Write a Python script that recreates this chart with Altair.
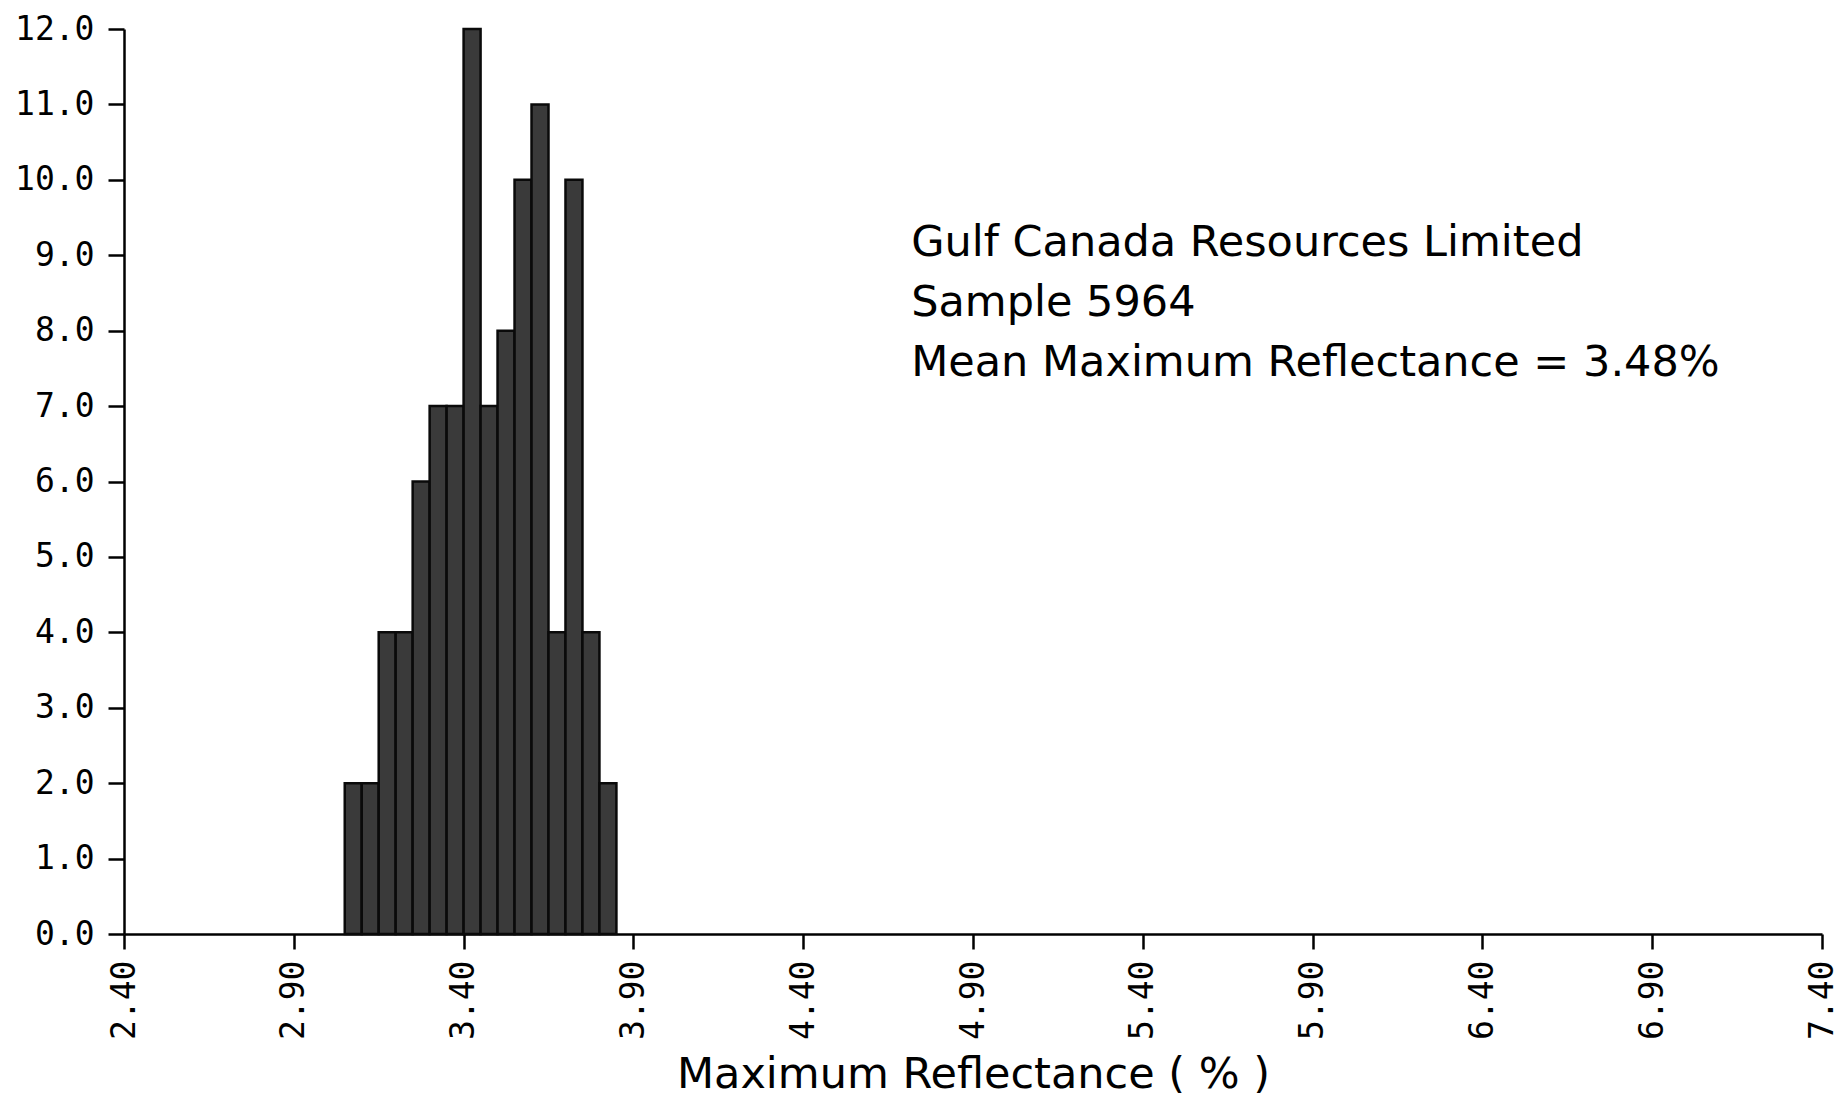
import altair as alt
import pandas as pd

# Histogram bins (lower edges, %) and their percentages
bin_start = [3.05, 3.10, 3.15, 3.20, 3.25, 3.30, 3.35, 3.40,
             3.45, 3.50, 3.55, 3.60, 3.65, 3.70, 3.75, 3.80]
percent = [2, 2, 4, 4, 6, 7, 7, 12, 7, 8, 10, 11, 4, 10, 4, 2]
bin_width = 0.05

x_ticks = [2.40, 2.90, 3.40, 3.90, 4.40, 4.90, 5.40, 5.90, 6.40, 6.90, 7.40]
y_ticks = [0, 1, 2, 3, 4, 5, 6, 7, 8, 9, 10, 11, 12]

notes = ["Gulf Canada Resources Limited",
         "Sample 5964",
         "Mean Maximum Reflectance = 3.48%"]
x_title = "Maximum Reflectance ( % )"

df = pd.DataFrame({
    "start": bin_start,
    "end": [s + bin_width for s in bin_start],
    "pct": percent,
})

SANS = "DejaVu Sans"
MONO = "DejaVu Sans Mono"

x_scale = alt.Scale(domain=[2.40, 7.40], nice=False, zero=False)
y_scale = alt.Scale(domain=[0, 12], nice=False)

x_axis = alt.Axis(
    values=x_ticks, format=".2f", labelAngle=-90, tickSize=15, labelPadding=11,
    title=x_title, titleFont=SANS, titleFontSize=43, titleFontWeight="normal",
    titleColor="black", titleY=153, titleBaseline="alphabetic",
)
y_axis = alt.Axis(values=y_ticks, format=".1f", tickSize=16, labelPadding=14, title=None)

bars = alt.Chart(df).mark_bar(
    fill="#3a3a3a", stroke="#0a0a0a", strokeWidth=2.5
).encode(
    x=alt.X("start:Q", scale=x_scale, axis=x_axis),
    x2="end:Q",
    y=alt.Y("pct:Q", scale=y_scale, axis=y_axis),
    y2=alt.datum(0),
)

note = alt.Chart(pd.DataFrame({"a": [0]})).mark_text(
    text=notes, lineHeight=60, align="left", baseline="alphabetic",
    font=SANS, fontSize=43, color="black",
).encode(
    x=alt.datum(4.718),
    y=alt.datum(8.99),
)

chart = alt.layer(bars, note).properties(
    width=1698, height=905,
    autosize=alt.AutoSizeParams(type="none"),
    padding={"left": 116, "top": 21, "right": 17, "bottom": 166},
    background="white",
).configure_view(stroke=None).configure_axis(
    grid=False, domainColor="black", domainWidth=2.5, tickColor="black",
    tickWidth=2.5, labelFont=MONO, labelFontSize=33, labelColor="black",
)

chart.save("out.html", embed_options={"renderer": "svg", "actions": False})
